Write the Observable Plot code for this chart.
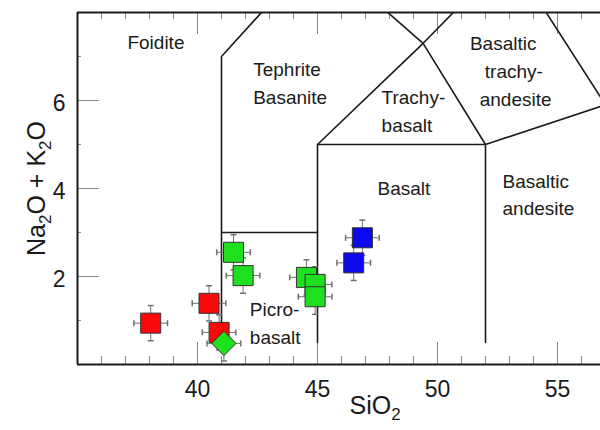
<!DOCTYPE html>
<html><head><meta charset="utf-8">
<script src="https://cdn.jsdelivr.net/npm/d3@7"></script>
<script src="https://cdn.jsdelivr.net/npm/@observablehq/plot@0.6"></script>
<style>
html,body{margin:0;padding:0;background:#fff;}
#chart svg{display:block;}
</style></head><body><div id="chart"></div>
<script>
// ---- sample data (SiO2 vs total alkali) ----
const sio2      = [38.05, 40.48, 40.90, 41.50, 41.90, 44.54, 44.90, 44.90, 46.87, 46.51, 41.10];
const alkali    = [0.94, 1.39, 0.73, 2.55, 2.02, 1.98, 1.82, 1.54, 2.88, 2.31, 0.48];
const sio2Err   = [0.7, 0.7, 0.7, 0.7, 0.7, 0.7, 0.7, 0.7, 0.7, 0.7, 0.7];
const alkaliErr = [0.4, 0.4, 0.4, 0.4, 0.4, 0.4, 0.4, 0.4, 0.4, 0.4, 0.4];
const group     = ["A", "A", "A", "B", "B", "B", "B", "B", "C", "C", "B"];
const shape     = ["square", "square", "square", "square", "square", "square", "square", "square", "square", "square", "diamond"];
const groupNames  = ["A", "B", "C"];
const groupColors = ["#f80a0a", "#1fe01f", "#0a0aec"];

// ---- TAS field boundaries (polylines) ----
const boundaryId = ["a","a","a", "b","b", "c","c","c","c", "d","d","d", "e","e","e","e", "f","f"];
const boundaryX  = [41, 41, 45,   41, 45,  45, 45, 49.4, 53,  45, 52, 57,  52, 52, 49.4, 45,  57, 53];
const boundaryY  = [0.5, 7, 9.4,  3, 3,    0.5, 5, 7.3, 9.3,  5, 5, 5.9,   0.5, 5, 7.3, 9.4,  5.9, 9.3];

// ---- field names (one entry per text line) ----
const fieldText = ["Foidite", "Tephrite", "Basanite", "Trachy-", "basalt", "Basaltic", "trachy-", "andesite", "Basalt", "Basaltic", "andesite", "Picro-", "basalt"];
const fieldX    = [37.08, 42.32, 42.32, 47.67, 47.67, 51.35, 51.97, 51.76, 47.50, 52.71, 52.71, 42.18, 42.18];
const fieldY    = [7.30, 6.69, 6.05, 6.05, 5.43, 7.28, 6.66, 6.01, 4.00, 4.16, 3.54, 1.24, 0.60];

// ---- ticks ----
const xMajor = [40, 45, 50, 55];
const xMinor = [36, 37, 38, 39, 41, 42, 43, 44, 46, 47, 48, 49, 51, 52, 53, 54, 56];
const yMajor = [2, 4, 6];
const yMinor = [1, 3, 5, 7];
const xTitle = "SiO2";
const yTitle = "Na2O + K2O";

const pts = sio2.map((x, i) => ({x, y: alkali[i], ex: sio2Err[i], ey: alkaliErr[i], g: group[i], s: shape[i]}));
const lines = boundaryX.map((x, i) => ({id: boundaryId[i], x, y: boundaryY[i]}));
const fields = fieldText.map((t, i) => ({t, x: fieldX[i], y: fieldY[i]}));

const W = 600, H = 430, mL = 77, mR = 0, mT = 12, mB = 66;
const frameW = W - mL - mR, frameH = H - mT - mB;
const pxPerX = 24;

const vBar = {draw(ctx, size) { const r = Math.sqrt(size / Math.PI); ctx.moveTo(0, -r); ctx.lineTo(0, r); }};
const hBar = {draw(ctx, size) { const r = Math.sqrt(size / Math.PI); ctx.moveTo(-r, 0); ctx.lineTo(r, 0); }};

const tickColor = "#8a8a8a";
const squares = pts.filter(d => d.s === "square");
const diamonds = pts.filter(d => d.s === "diamond");

const chart = Plot.plot({
  width: W, height: H,
  marginLeft: mL, marginRight: mR, marginTop: mT, marginBottom: mB,
  style: {fontFamily: "'Liberation Sans', Arial, sans-serif", color: "#222", background: "#fff"},
  x: {domain: [35, 35 + frameW / pxPerX]},
  y: {domain: [0, 8]},
  color: {domain: groupNames, range: groupColors},
  marks: [
    // inward ticks
    Plot.ruleX(xMajor, {stroke: tickColor, strokeWidth: 1, insetTop: frameH - 22}),
    Plot.ruleX(xMinor, {stroke: tickColor, strokeWidth: 1, insetTop: frameH - 8}),
    Plot.ruleX(xMajor, {stroke: tickColor, strokeWidth: 1, insetBottom: frameH - 22}),
    Plot.ruleX(xMinor, {stroke: tickColor, strokeWidth: 1, insetBottom: frameH - 7}),
    Plot.ruleY(yMajor, {stroke: tickColor, strokeWidth: 1, insetRight: frameW - 22}),
    Plot.ruleY(yMinor, {stroke: tickColor, strokeWidth: 1, insetRight: frameW - 4}),
    // field boundaries
    Plot.line(lines, {x: "x", y: "y", z: "id", stroke: "#1a1a1a", strokeWidth: 1.6, clip: true}),
    // frame
    Plot.ruleY([0, 8], {stroke: "#1a1a1a", strokeWidth: 2}),
    Plot.ruleX([35], {stroke: "#1a1a1a", strokeWidth: 2}),
    // field names
    Plot.text(fields, {x: "x", y: "y", text: "t", textAnchor: "start", fontSize: 19, fill: "#1a1a1a"}),
    // error bars
    Plot.ruleY(pts, {y: "y", x1: d => d.x - d.ex, x2: d => d.x + d.ex, stroke: "#6f6f6f", strokeWidth: 1}),
    Plot.ruleX(pts, {x: "x", y1: d => d.y - d.ey, y2: d => d.y + d.ey, stroke: "#6f6f6f", strokeWidth: 1}),
    Plot.dot(pts, {x: d => d.x - d.ex, y: "y", symbol: vBar, r: 3, stroke: "#6f6f6f", fill: "none"}),
    Plot.dot(pts, {x: d => d.x + d.ex, y: "y", symbol: vBar, r: 3, stroke: "#6f6f6f", fill: "none"}),
    Plot.dot(pts, {x: "x", y: d => d.y - d.ey, symbol: hBar, r: 3, stroke: "#6f6f6f", fill: "none"}),
    Plot.dot(pts, {x: "x", y: d => d.y + d.ey, symbol: hBar, r: 3, stroke: "#6f6f6f", fill: "none"}),
    // samples
    Plot.dot(squares, {x: "x", y: "y", symbol: "square", r: 11.3, fill: "g", stroke: "#333", strokeWidth: 1}),
    Plot.dot(diamonds, {x: "x", y: "y", symbol: "diamond2", r: 11, fill: "g", stroke: "#333", strokeWidth: 1}),
    // axes
    Plot.axisX(xMajor, {tickSize: 0, tickPadding: 16, fontSize: 23, label: null, fill: "#1a1a1a"}),
    Plot.axisY(yMajor, {tickSize: 0, tickPadding: 12, fontSize: 23, label: null, dy: 3, fill: "#1a1a1a"}),
    // axis titles
    Plot.text([xTitle], {x: [47.4], frameAnchor: "bottom", textAnchor: "middle", dy: 49, fontSize: 25, fill: "#1a1a1a"}),
    Plot.text([yTitle], {frameAnchor: "left", textAnchor: "middle", rotate: -90, dx: -41, fontSize: 25, fill: "#1a1a1a"})
  ]
});

// subscripts for chemical formulas
chart.querySelectorAll("text").forEach(t => {
  const s = t.textContent;
  if (!/[A-Za-z]2/.test(s) || t.querySelector("tspan")) return;
  t.textContent = "";
  const ns = "http://www.w3.org/2000/svg";
  let shifted = false;
  for (let i = 0; i < s.length; i++) {
    const c = s[i];
    const isSub = /\d/.test(c) && i > 0 && /[A-Za-z]/.test(s[i - 1]);
    const sp = document.createElementNS(ns, "tspan");
    sp.textContent = c;
    if (isSub) { sp.setAttribute("font-size", "17"); sp.setAttribute("dy", "6"); shifted = true; }
    else if (shifted) { sp.setAttribute("dy", "-6"); shifted = false; }
    t.appendChild(sp);
  }
});

document.getElementById("chart").appendChild(chart);
</script></body></html>
